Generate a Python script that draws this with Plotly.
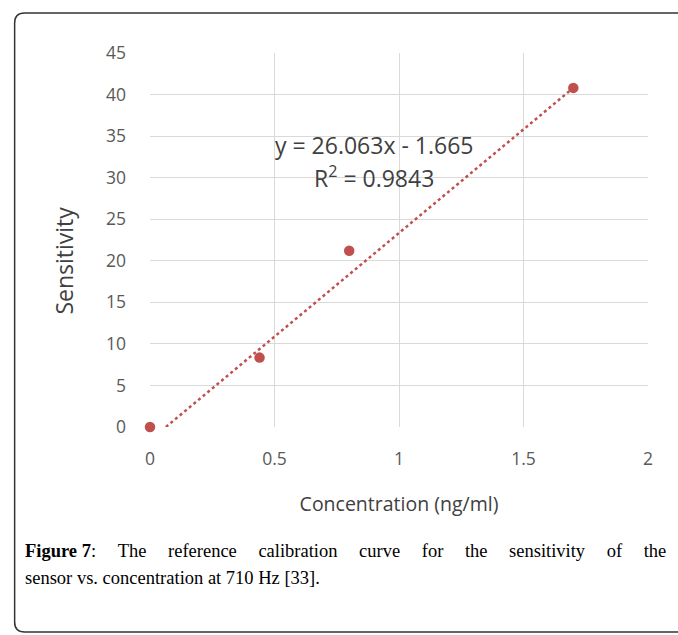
import plotly.graph_objects as go

# Data
concentration = [0.0, 0.44, 0.80, 1.70]
sensitivity = [0.0, 8.35, 21.2, 40.8]
slope = 26.063
intercept = -1.665
r_squared = 0.9843
x_ticks = [0, 0.5, 1, 1.5, 2]
y_ticks = [0, 5, 10, 15, 20, 25, 30, 35, 40, 45]
caption_line1_words = ["<b>Figure 7</b>:", "The", "reference", "calibration", "curve",
                       "for", "the", "sensitivity", "of", "the"]
caption_line2 = "sensor vs. concentration at 710 Hz [33]."

W, H = 678, 635
L, R, T, B = 149.5, 30, 53, 208

red = "#c0504d"
fig = go.Figure()

# trend line: starts where the displayed equation crosses zero, ends at last point
x0 = -intercept / slope
fig.add_trace(go.Scatter(
    x=[x0, concentration[-1]], y=[0, sensitivity[-1]],
    mode="lines", line=dict(color=red, width=2.5, dash="dot"),
    hoverinfo="skip", showlegend=False, cliponaxis=False))

fig.add_trace(go.Scatter(
    x=concentration, y=sensitivity, mode="markers",
    marker=dict(color=red, size=10.5), showlegend=False, cliponaxis=False))

tickfont = dict(family="Open Sans", size=17.5, color="#595959")
titlefont = dict(family="Open Sans", size=19.5, color="#404040")
fig.update_xaxes(range=[0, 2], tickvals=x_ticks, ticktext=[f"{v:g}" for v in x_ticks],
                 showgrid=True, gridcolor="#d9d9d9", gridwidth=1.2,
                 zeroline=False, showline=False, ticks="", tickfont=tickfont,
                 ticklabelstandoff=19,
                 title=dict(text="Concentration (ng/ml)", font=titlefont, standoff=28))
fig.update_yaxes(range=[0, 45], tickvals=y_ticks, ticktext=[str(v) for v in y_ticks],
                 showgrid=True, gridcolor="#d9d9d9", gridwidth=1.2,
                 zeroline=False, showline=False, ticks="", tickfont=tickfont,
                 ticklabelstandoff=23)

def px(x):
    return (x - L) / (W - L - R)
def py(y):
    return 1 - (y - T) / (H - T - B)

# y-axis title (placed as in the reference, below the plot centre)
fig.add_annotation(xref="paper", yref="paper", x=px(63), y=py(261), textangle=-90,
                   xanchor="center", yanchor="middle",
                   text="Sensitivity", showarrow=False,
                   font=dict(family="Open Sans", size=23, color="#404040"))

# equation label
eqfont = dict(family="Open Sans", size=23, color="#404040")
fig.add_annotation(x=0.90, y=33.9, xref="x", yref="y", xanchor="center",
                   text=f"y = {slope:.3f}x - {abs(intercept):.3f}", showarrow=False, font=eqfont)
fig.add_annotation(x=0.90, y=30.1, xref="x", yref="y", xanchor="center",
                   text=f"R<sup>2</sup> = {r_squared:.4f}", showarrow=False, font=eqfont)

# caption
capfont = dict(family="Liberation Serif", size=18.5, color="#000000")
fig.add_annotation(xref="paper", yref="paper", x=px(22), y=py(551), xanchor="left", yanchor="middle",
                   text=(" " + "\u00a0" * 3 + "\u2006").join(caption_line1_words),
                   showarrow=False, font=capfont)
fig.add_annotation(xref="paper", yref="paper", x=px(22), y=py(578), xanchor="left", yanchor="middle",
                   text=caption_line2, showarrow=False, font=capfont)

# rounded frame
x_l, y_t, y_b, x_r, rr = 14, 13, 632, 690, 10
path = (f"M {x_l+rr},{y_t} L {x_r},{y_t} L {x_r},{y_b} L {x_l+rr},{y_b} "
        f"Q {x_l},{y_b} {x_l},{y_b-rr} L {x_l},{y_t+rr} Q {x_l},{y_t} {x_l+rr},{y_t} Z")
def conv(p):
    out = []
    for tok in p.split():
        if "," in tok:
            a, b = tok.split(",")
            out.append(f"{px(float(a)):.5f},{py(float(b)):.5f}")
        else:
            out.append(tok)
    return " ".join(out)
fig.add_shape(type="path", path=conv(path), xref="paper", yref="paper",
              line=dict(color="#333333", width=1.5), layer="below")

fig.update_layout(width=W, height=H, margin=dict(l=L, r=R, t=T, b=B),
                  paper_bgcolor="white", plot_bgcolor="white")

fig.write_html("out.html")
